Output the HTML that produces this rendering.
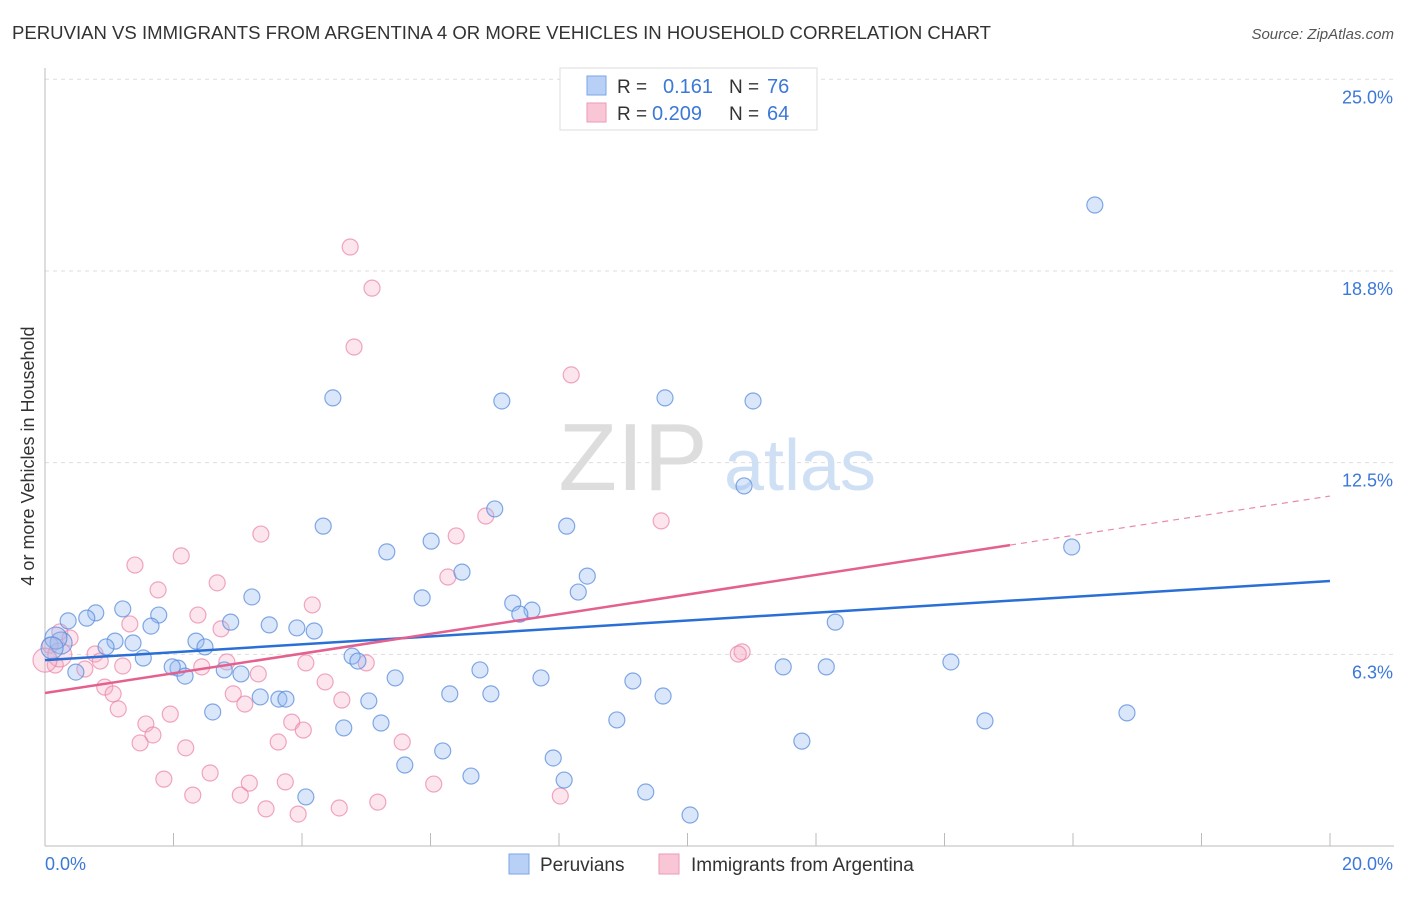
<!DOCTYPE html>
<html><head><meta charset="utf-8">
<style>
body{margin:0;background:#fff;font-family:"Liberation Sans",sans-serif;}
svg text{font-family:"Liberation Sans",sans-serif;}
</style></head>
<body>
<svg id="chart" width="1406" height="892" viewBox="0 0 1406 892" xmlns="http://www.w3.org/2000/svg">
<text x="12" y="39" font-size="18" fill="#333" textLength="979" lengthAdjust="spacingAndGlyphs">PERUVIAN VS IMMIGRANTS FROM ARGENTINA 4 OR MORE VEHICLES IN HOUSEHOLD CORRELATION CHART</text>
<text x="1394" y="39" font-size="15" fill="#555" text-anchor="end" font-style="italic">Source: ZipAtlas.com</text>
<text x="34" y="456" font-size="18" fill="#333" text-anchor="middle" transform="rotate(-90 34 456)">4 or more Vehicles in Household</text>
<g id="grid"></g>
<g>
<text x="633" y="490" font-size="96" fill="#ddd" text-anchor="middle" font-family="Liberation Serif">ZIP</text>
<text x="800" y="490" font-size="72" fill="#cfe0f5" text-anchor="middle">atlas</text>
</g>
<g id="axes"></g>
<g id="pts"></g>
<g id="trends"></g>
<g>
<rect x="560" y="68" width="257" height="62" fill="#fff" stroke="#ddd"/>
<rect x="587" y="76" width="19" height="19" fill="#b8d0f5" stroke="#7aa6e6"/>
<rect x="587" y="103" width="19" height="19" fill="#f9c6d6" stroke="#ee9ab8"/>
<text x="617" y="93" font-size="19" fill="#333">R = </text><text x="663" y="93" font-size="20" fill="#3b78d8">0.161</text>
<text x="729" y="93" font-size="19" fill="#333">N = </text><text x="767" y="93" font-size="20" fill="#3b78d8">76</text>
<text x="617" y="120" font-size="19" fill="#333">R = </text><text x="652" y="120" font-size="20" fill="#3b78d8">0.209</text>
<text x="729" y="120" font-size="19" fill="#333">N = </text><text x="767" y="120" font-size="20" fill="#3b78d8">64</text>
</g>
<g>
<rect x="509" y="854" width="20" height="20" fill="#b8d0f5" stroke="#7aa6e6"/>
<text x="540" y="871" font-size="19" fill="#333">Peruvians</text>
<rect x="659" y="854" width="20" height="20" fill="#f9c6d6" stroke="#ee9ab8"/>
<text x="691" y="871" font-size="19" fill="#333">Immigrants from Argentina</text>
</g>
</svg>
<script>
const yTicks=[25,18.75,12.5,6.25];
const yTickLabels=["25.0%","18.8%","12.5%","6.3%"];
const xMinLabel="0.0%", xMaxLabel="20.0%";
const blueX=[16.34,4.48,7.11,9.65,11.02,10.88,7.00,4.33,8.12,5.32,6.01,15.98,6.49,8.44,8.30,5.87,3.22,7.28,7.58,7.39,1.21,0.79,0.65,1.77,0.36,1.65,2.89,3.49,3.92,4.19,12.30,1.37,1.09,2.35,2.49,0.95,0.25,0.17,0.11,1.53,4.78,4.87,2.07,1.98,2.18,2.79,3.05,6.77,11.49,12.16,14.10,0.48,5.45,7.72,9.15,6.30,6.94,9.62,3.35,3.64,3.75,5.04,2.61,8.90,14.63,16.84,4.65,5.23,11.78,6.19,5.60,7.91,6.63,8.08,9.35,4.06,10.04];
const blueY=[20.90,14.61,14.51,14.61,14.51,11.74,10.99,10.43,10.43,9.59,9.94,9.75,8.93,8.80,8.28,8.09,8.12,7.92,7.69,7.56,7.73,7.60,7.43,7.53,7.34,7.17,7.30,7.21,7.11,7.01,7.30,6.62,6.68,6.68,6.49,6.49,6.62,6.78,6.46,6.13,6.19,6.03,5.80,5.84,5.54,5.74,5.61,5.74,5.84,5.84,6.00,5.67,5.48,5.48,5.38,4.96,4.96,4.89,4.86,4.79,4.79,4.73,4.37,4.11,4.08,4.34,3.85,4.01,3.42,3.10,2.64,2.87,2.28,2.15,1.76,1.60,1.01];
const pinkX=[4.75,5.09,4.81,8.19,6.86,9.59,3.36,6.40,2.12,1.40,6.27,2.68,1.76,4.16,2.38,1.32,0.23,0.39,0.08,0.16,0.78,0.86,1.21,0.62,2.74,2.83,2.44,3.32,4.06,5.00,4.36,10.85,10.79,0.93,1.06,2.93,3.11,4.62,1.14,1.95,1.57,1.68,3.84,4.02,1.48,2.19,3.63,5.56,2.57,1.85,3.18,3.74,6.05,2.30,3.04,5.18,8.02,3.44,3.94,4.58,0.23,0.0];
const pinkY=[19.53,18.19,16.27,15.36,10.76,10.60,10.17,10.11,9.46,9.16,8.77,8.58,8.35,7.86,7.53,7.24,6.98,6.78,6.55,5.90,6.26,6.03,5.87,5.77,7.08,6.00,5.84,5.61,5.97,5.97,5.35,6.33,6.26,5.18,4.96,4.96,4.63,4.76,4.47,4.30,3.98,3.62,4.04,3.78,3.36,3.20,3.39,3.39,2.38,2.18,2.05,2.09,2.02,1.66,1.66,1.43,1.63,1.21,1.04,1.24,6.23,6.06];
const blueTrend=[6.06,8.64];
const pinkTrend=[4.99,11.41];
const pinkSolidEnd=15.02;

const X=v=>45+v/20*1285;
const Y=v=>846-v*30.67;
const NS="http://www.w3.org/2000/svg";
function mk(tag,attrs,parent){const e=document.createElementNS(NS,tag);for(const k in attrs)e.setAttribute(k,attrs[k]);parent.appendChild(e);return e;}
const grid=document.getElementById('grid'),axes=document.getElementById('axes');
yTicks.forEach((t,i)=>{
  const l=mk('line',{x1:45,x2:1394,y1:Y(t),y2:Y(t),stroke:'#ddd','stroke-dasharray':'4,4'},grid);
  
  
  const tx=mk('text',{x:1393,y:Y(t)+24,'font-size':18,fill:'#3b78d8','text-anchor':'end'},axes);
  tx.textContent=yTickLabels[i];
  
  
});
mk('line',{x1:45,x2:45,y1:68,y2:846,stroke:'#bbb'},axes);
mk('line',{x1:45,x2:1394,y1:846,y2:846,stroke:'#bbb'},axes);
for(let i=0;i<=10;i++){mk('line',{x1:X(i*2),x2:X(i*2),y1:833,y2:846,stroke:'#bbb'},axes);}
let t1=mk('text',{x:45,y:870,'font-size':18,fill:'#3b78d8'},axes);t1.textContent=xMinLabel;


let t2=mk('text',{x:1393,y:870,'font-size':18,fill:'#3b78d8','text-anchor':'end'},axes);t2.textContent=xMaxLabel;


const pts=document.getElementById('pts');
pinkX.forEach((x,i)=>{const c=mk('circle',{cx:X(x),cy:Y(pinkY[i]),r:(i>=60?12:8),fill:'rgba(244,170,196,0.3)',stroke:'rgba(234,130,166,0.7)','stroke-width':1.2},pts);

});
blueX.forEach((x,i)=>{const big=(i===36||i===37||i===38);const c=mk('circle',{cx:X(x),cy:Y(blueY[i]),r:big?11:8,fill:'rgba(150,185,240,0.35)',stroke:'rgba(90,140,220,0.75)','stroke-width':1.2},pts);

});
const tr=document.getElementById('trends');
const bl=mk('line',{x1:X(0),y1:Y(blueTrend[0]),x2:X(20),y2:Y(blueTrend[1]),stroke:'#2a6fd6','stroke-width':2.5},tr);


const pe=pinkTrend[0]+(pinkTrend[1]-pinkTrend[0])*pinkSolidEnd/20;
const pl=mk('line',{x1:X(0),y1:Y(pinkTrend[0]),x2:X(pinkSolidEnd),y2:Y(pe),stroke:'#e4608e','stroke-width':2.5},tr);


const pd=mk('line',{x1:X(pinkSolidEnd),y1:Y(pe),x2:X(20),y2:Y(pinkTrend[1]),stroke:'#e88aab','stroke-width':1.2,'stroke-dasharray':'6,5'},tr);


</script>
</body></html>
